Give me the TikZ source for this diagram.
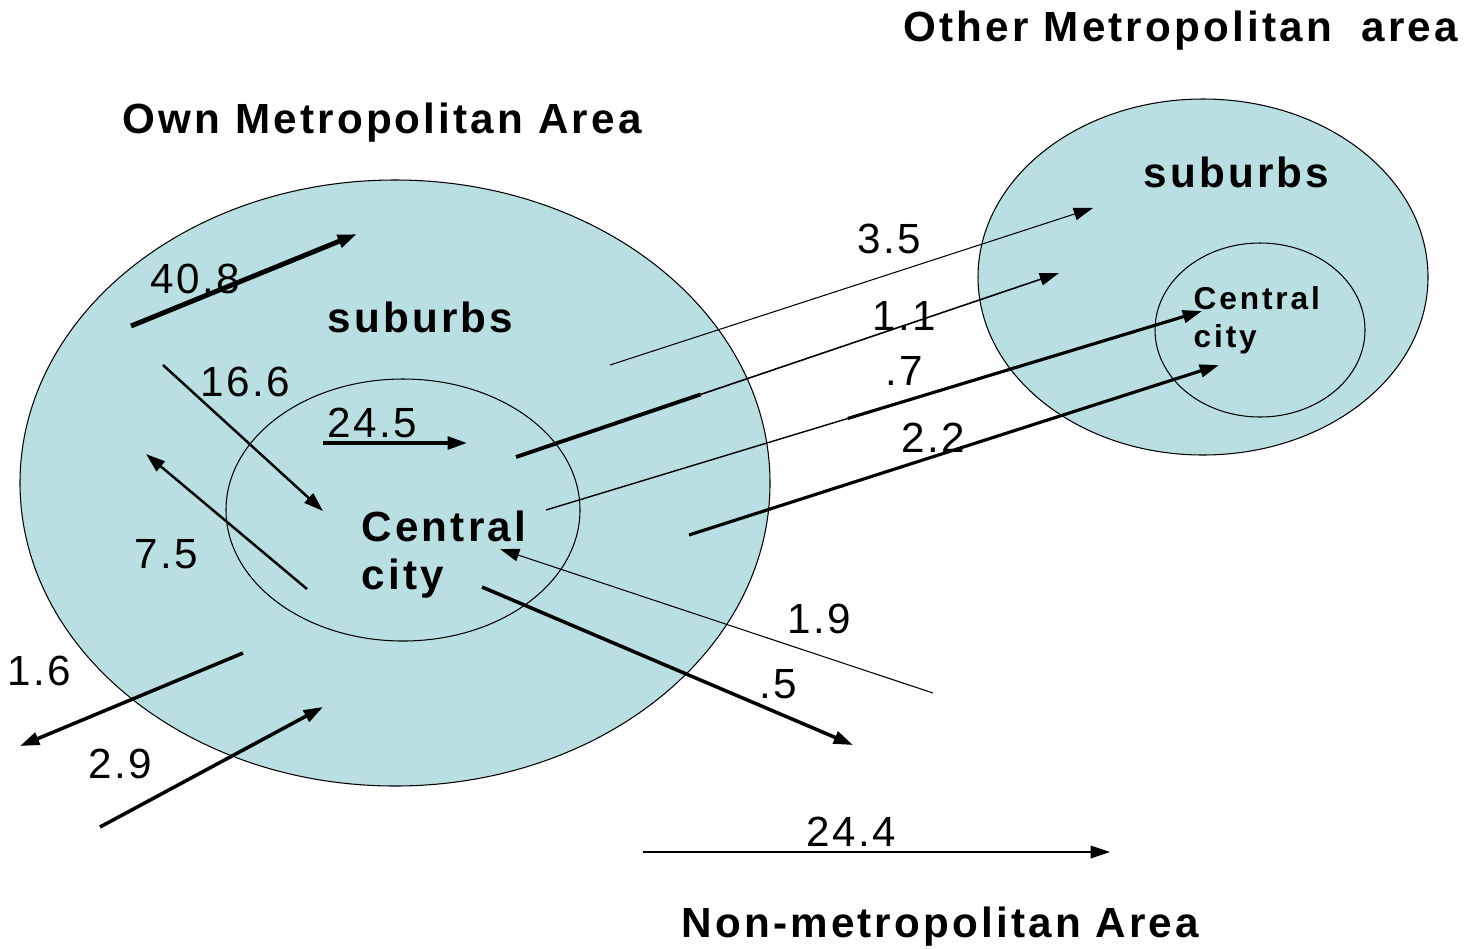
\documentclass[tikz,border=0pt]{standalone}
\usepackage{fontspec}
\setmainfont{Liberation Sans}
\newfontfamily\flowfont[LetterSpace=6]{Liberation Sans}
\newfontfamily\areafont[LetterSpace=7.5]{Liberation Sans}
\newfontfamily\innerfont[LetterSpace=9]{Liberation Sans}
\usetikzlibrary{arrows.meta,calc}
\definecolor{metfill}{HTML}{B9DFE3}

\begin{document}
\begin{tikzpicture}[x=0.01cm, y=-0.01cm,
  area/.style={draw, line width=0.3pt, fill=metfill},
  place/.style={anchor=base west, inner sep=0pt, align=left, font=\areafont\bfseries\fontsize{12}{13.4}\selectfont},
  num/.style={anchor=base west, inner sep=0pt, font=\flowfont\fontsize{12}{14}\selectfont},
  flow/.style={-{Triangle[length=5.5pt, width=3.6pt]}, line width=#1},
  flow/.default=0.9pt,
]
\useasboundingbox (0,0) rectangle (1476,948);

% Areas
\path[area] (395,483) ellipse [x radius=375, y radius=303];
\path[area] (403,510) ellipse [x radius=177, y radius=131];
\path[area] (1203,277) ellipse [x radius=225, y radius=178];
\path[area] (1260,330) ellipse [x radius=105, y radius=87];

% Titles
\node[place] (own) at (122,133) {Own Metropolitan Area};
\node[place] (other) at (903,41) {Other Metropolitan\ \ area};
\node[place] (non) at (681,937) {Non-metropolitan Area};
\node[place] (sub1) at (327,332) {suburbs};
\node[place] (sub2) at (1143,187) {suburbs};
\node[place] (cc1) at (361,589) {Central\\city};
\node[place, font=\innerfont\bfseries\fontsize{9}{10.8}\selectfont] (cc2) at (1193,347) {Central\\city};

% Flow ends
\coordinate (a408) at (131,326);  \coordinate (b408) at (357,234);
\coordinate (a166) at (163,365);  \coordinate (b166) at (323,511);
\coordinate (a245) at (323,443);  \coordinate (b245) at (467,443);
\coordinate (a75)  at (307,589);  \coordinate (b75)  at (146,454);
\coordinate (a16)  at (243,653);  \coordinate (b16)  at (20,746);
\coordinate (a29)  at (100,827);  \coordinate (b29)  at (323,707);
\coordinate (a35)  at (610,365);  \coordinate (b35)  at (1093,208);
\coordinate (a11)  at (516,457);  \coordinate (b11)  at (1059,273);
\coordinate (a07)  at (546,510);  \coordinate (b07)  at (1202,311);
\coordinate (a22)  at (689,535);  \coordinate (b22)  at (1219,365);
\coordinate (a19)  at (933,693);  \coordinate (b19)  at (500,549);
\coordinate (a05)  at (482,587);  \coordinate (b05)  at (853,745);
\coordinate (a244) at (643,852);  \coordinate (b244) at (1110,852);
\coordinate (m11) at ($(a11)!0.34!(b11)$);
\coordinate (m07) at ($(a07)!0.46!(b07)$);

% Flows
\draw[flow=1.4pt] (a408) -- (b408);
\draw[flow=0.7pt] (a166) -- (b166);
\draw[flow=1pt] (a245) -- (b245);
\draw[flow=0.7pt] (a75) -- (b75);
\draw[flow=1pt] (a16) -- (b16);
\draw[flow=1pt] (a29) -- (b29);
\draw[flow=0.3pt] (a35) -- (b35);
\draw[line width=1.1pt] (a11) -- (m11);
\draw[flow=0.45pt] (m11) -- (b11);
\draw[line width=0.4pt] (a07) -- (m07);
\draw[flow=0.9pt] (m07) -- (b07);
\draw[flow=0.9pt] (a22) -- (b22);
\draw[flow=0.3pt] (a19) -- (b19);
\draw[flow=1pt] (a05) -- (b05);
\draw[flow=0.4pt] (a244) -- (b244);

% Flow labels
\node[num] (l408) at (150,293) {40.8};
\node[num] (l166) at (200,396) {16.6};
\node[num] (l245) at (327,437) {24.5};
\node[num] (l75)  at (134,568) {7.5};
\node[num] (l16)  at (7,685)   {1.6};
\node[num] (l29)  at (88,778)  {2.9};
\node[num] (l35)  at (857,253) {3.5};
\node[num] (l11)  at (872,330) {1.1};
\node[num] (l07)  at (885,385) {.7};
\node[num] (l22)  at (901,452) {2.2};
\node[num] (l19)  at (787,633) {1.9};
\node[num] (l05)  at (759,698) {.5};
\node[num] (l244) at (806,846) {24.4};
\end{tikzpicture}
\end{document}
